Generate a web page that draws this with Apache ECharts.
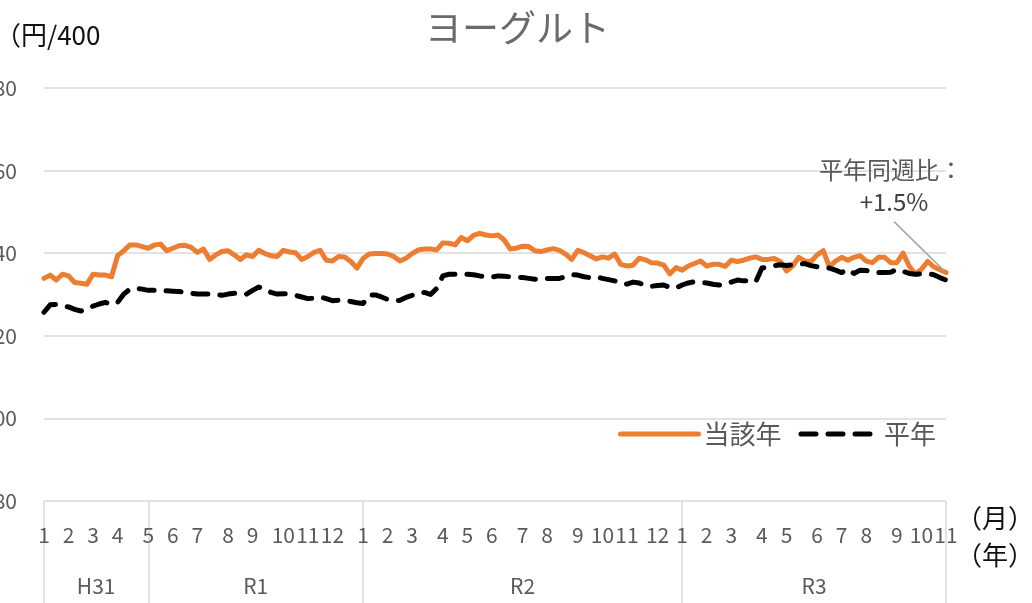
<!DOCTYPE html>
<html><head><meta charset="utf-8">
<script src="https://cdn.jsdelivr.net/npm/echarts/dist/echarts.min.js"></script>
<style>html,body{margin:0;padding:0;background:#fff}#c{width:1032px;height:603px}</style>
</head><body><div id="c"></div>
<script>
// ---- data ----
const chartTitle = 'ヨーグルト';
const unitLabel = '（円/400';
const monthAxisName = '（月）';
const yearAxisName = '（年）';
const seriesNames = ['当該年', '平年'];
const firstWeekStart = '2019-01-07';
const eras = [['H31', '2019-01'], ['R1', '2019-05'], ['R2', '2020-01'], ['R3', '2021-01']];
const yMin = 80, yMax = 180, yStep = 20;
const annotationLines = ['平年同週比：', '+1.5%'];

const currentYear = [
  133.9,134.7,133.5,134.9,134.5,132.9,132.7,132.5,134.9,134.7,
  134.7,134.3,139.4,140.6,142.0,142.0,141.6,141.2,142.0,142.2,
  140.6,141.2,141.8,141.9,141.4,140.2,141.0,138.5,139.6,140.4,
  140.6,139.6,138.5,139.6,139.2,140.7,139.9,139.4,139.2,140.7,
  140.3,140.1,138.5,139.2,140.2,140.7,138.3,138.1,139.2,139.1,
  138.0,136.4,138.7,139.8,139.9,139.9,139.8,139.2,138.1,138.8,
  139.9,140.8,141.0,141.0,140.8,142.5,142.4,142.0,143.8,143.0,
  144.3,144.8,144.4,144.2,144.4,143.2,141.0,141.2,141.7,141.6,
  140.6,140.4,140.8,141.1,140.7,139.8,138.5,140.7,140.1,139.4,
  138.6,139.1,138.8,139.8,137.3,136.9,137.1,138.8,138.4,137.7,
  137.6,137.1,135.0,136.5,135.9,136.9,137.5,138.1,136.9,137.3,
  137.3,136.8,138.3,138.0,138.3,138.8,139.1,138.5,138.5,138.7,
  138.0,135.7,136.9,139.0,138.1,138.0,139.6,140.6,136.7,138.1,
  139.0,138.3,139.0,139.4,138.1,137.7,139.0,139.0,137.7,137.7,
  140.0,136.9,134.9,136.1,138.0,136.7,136.0,135.3
];
const normalYear = [
  125.7,127.5,127.6,127.2,127.0,126.4,126.0,126.4,127.2,127.7,
  128.1,127.6,128.1,130.1,131.3,131.5,131.3,131.0,131.0,131.0,
  130.9,130.8,130.7,130.6,130.3,130.1,130.1,130.1,130.0,129.8,
  130.1,130.3,130.3,130.1,131.0,131.8,131.3,130.5,130.1,130.2,
  130.1,129.8,129.4,129.0,129.1,129.4,129.0,128.5,128.6,128.6,
  128.3,128.0,127.8,129.9,129.9,129.4,128.8,128.5,128.6,129.3,
  129.8,130.4,130.5,130.0,131.5,134.5,134.9,134.9,134.9,134.9,
  134.8,134.5,134.3,134.2,134.5,134.4,134.3,134.2,134.1,133.9,
  133.7,133.8,133.9,133.9,133.9,134.3,134.8,134.7,134.3,134.1,
  134.3,133.9,133.6,133.3,132.7,132.5,133.0,132.8,132.1,132.0,
  132.2,132.3,131.7,131.6,132.3,132.8,133.1,132.9,132.8,132.5,
  132.3,132.5,133.0,133.5,133.3,133.3,133.1,136.4,136.7,137.0,
  137.2,137.0,137.2,137.3,137.5,137.0,136.7,136.5,136.4,135.9,
  135.3,136.1,135.1,135.9,135.8,135.5,135.3,135.3,135.4,136.1,
  135.6,135.1,134.9,135.0,135.1,134.8,134.1,133.5
];

// ---- weekly categories ----
const weeks = [];
const d0 = new Date(firstWeekStart + 'T00:00:00Z').getTime();
for (let i = 0; i < currentYear.length; i++) {
  weeks.push(new Date(d0 + i * 7 * 86400000).toISOString().slice(0, 10));
}
const isMonthStart = i => i === 0 || weeks[i].slice(0, 7) !== weeks[i - 1].slice(0, 7);
const eraStarts = eras.map(e => weeks.findIndex(w => w.slice(0, 7) >= e[1]));
const lastIdx = weeks.length - 1;
const boundarySet = new Set([...eraStarts, lastIdx]);
// half-step axis for centred era labels
const halfCats = [];
for (let k = 0; k <= 2 * lastIdx; k++) halfCats.push('h' + k);
const eraLabelAt = {};
eras.forEach((e, j) => {
  const s = eraStarts[j];
  const en = j + 1 < eras.length ? eraStarts[j + 1] : lastIdx;
  eraLabelAt[s + en] = e[0];
});

const FONT = 'Noto Sans CJK JP';
const GRAY = '#595959';
const chart = echarts.init(document.getElementById('c'), null, {renderer: 'canvas'});
const option = {
  animation: false,
  backgroundColor: '#fff',
  textStyle: {fontFamily: FONT},
  title: [
    {text: chartTitle, left: 420, top: 4, textStyle: {fontFamily: FONT, fontSize: 37, fontWeight: 'normal', color: '#6b6b6b'}},
    {text: unitLabel, left: -10, top: 17, textStyle: {fontFamily: FONT, fontSize: 26, fontWeight: 'normal', color: '#111'}},
    {text: monthAxisName, left: 951, top: 500, textStyle: {fontFamily: FONT, fontSize: 26, fontWeight: 'normal', color: '#111'}},
    {text: yearAxisName, left: 951, top: 537, textStyle: {fontFamily: FONT, fontSize: 26, fontWeight: 'normal', color: '#111'}}
  ],
  legend: {
    left: 613, top: 416,
    itemWidth: 78, itemHeight: 14, itemGap: 17,
    textStyle: {fontFamily: FONT, fontSize: 26, color: GRAY},
    itemStyle: {opacity: 0},
    lineStyle: {width: 5, cap: 'round'},
    data: seriesNames
  },
  grid: {left: 44, right: 86, top: 88, bottom: 102, containLabel: false, outerBoundsMode: 'none'},
  xAxis: [
    {
      type: 'category', data: weeks, boundaryGap: false,
      axisLine: {show: false},
      axisTick: {show: true, length: 104, interval: (i) => boundarySet.has(i), lineStyle: {color: '#d9d9d9', width: 1.5}},
      axisLabel: {
        interval: (i) => isMonthStart(i),
        formatter: (v) => String(+v.slice(5, 7)),
        margin: 24, fontFamily: FONT, fontSize: 21, color: GRAY
      },
      splitLine: {show: false}
    },
    {
      type: 'category', data: halfCats, boundaryGap: false, position: 'bottom',
      axisLine: {show: false}, axisTick: {show: false},
      axisLabel: {
        interval: (k) => eraLabelAt[k] !== undefined,
        formatter: (v, k) => eraLabelAt[k] || '',
        margin: 75, fontFamily: FONT, fontSize: 21, color: GRAY
      },
      splitLine: {show: false}
    }
  ],
  yAxis: {
    type: 'value', min: yMin, max: yMax, interval: yStep,
    axisLine: {show: false}, axisTick: {show: false},
    axisLabel: {margin: 27, fontFamily: FONT, fontSize: 21, color: GRAY},
    splitLine: {lineStyle: {color: '#d9d9d9', width: 1.5}}
  },
  series: [
    {
      name: seriesNames[0], type: 'line', data: currentYear,
      symbol: 'none', showSymbol: false,
      lineStyle: {color: '#ED7D31', width: 5, cap: 'round', join: 'round'},
      itemStyle: {color: '#ED7D31'}
    },
    {
      name: seriesNames[1], type: 'line', data: normalYear,
      symbol: 'none', showSymbol: false,
      lineStyle: {color: '#000', width: 5, type: [15, 12], cap: 'round', join: 'round'},
      itemStyle: {color: '#000'}
    }
  ]
};
chart.setOption(option);

// annotation anchored to the last data point through the chart's own scales
const pt = chart.convertToPixel({xAxisIndex: 0, yAxisIndex: 0}, [lastIdx, currentYear[lastIdx]]);
chart.setOption({
  graphic: [
    {type: 'line', silent: true, z: 100,
     shape: {x1: pt[0] - 52, y1: pt[1] - 51, x2: pt[0] - 2, y2: pt[1] - 2},
     style: {stroke: '#a6a6a6', lineWidth: 1.5}},
    {type: 'text', silent: true, z: 100, x: pt[0] - 55, y: pt[1] - 103,
     style: {text: annotationLines[0], font: '24px "' + FONT + '"', fill: GRAY, align: 'center', verticalAlign: 'middle'}},
    {type: 'text', silent: true, z: 100, x: pt[0] - 52, y: pt[1] - 71,
     style: {text: annotationLines[1], font: '24px "' + FONT + '"', fill: '#404040', align: 'center', verticalAlign: 'middle'}}
  ]
});
</script>
</body></html>
